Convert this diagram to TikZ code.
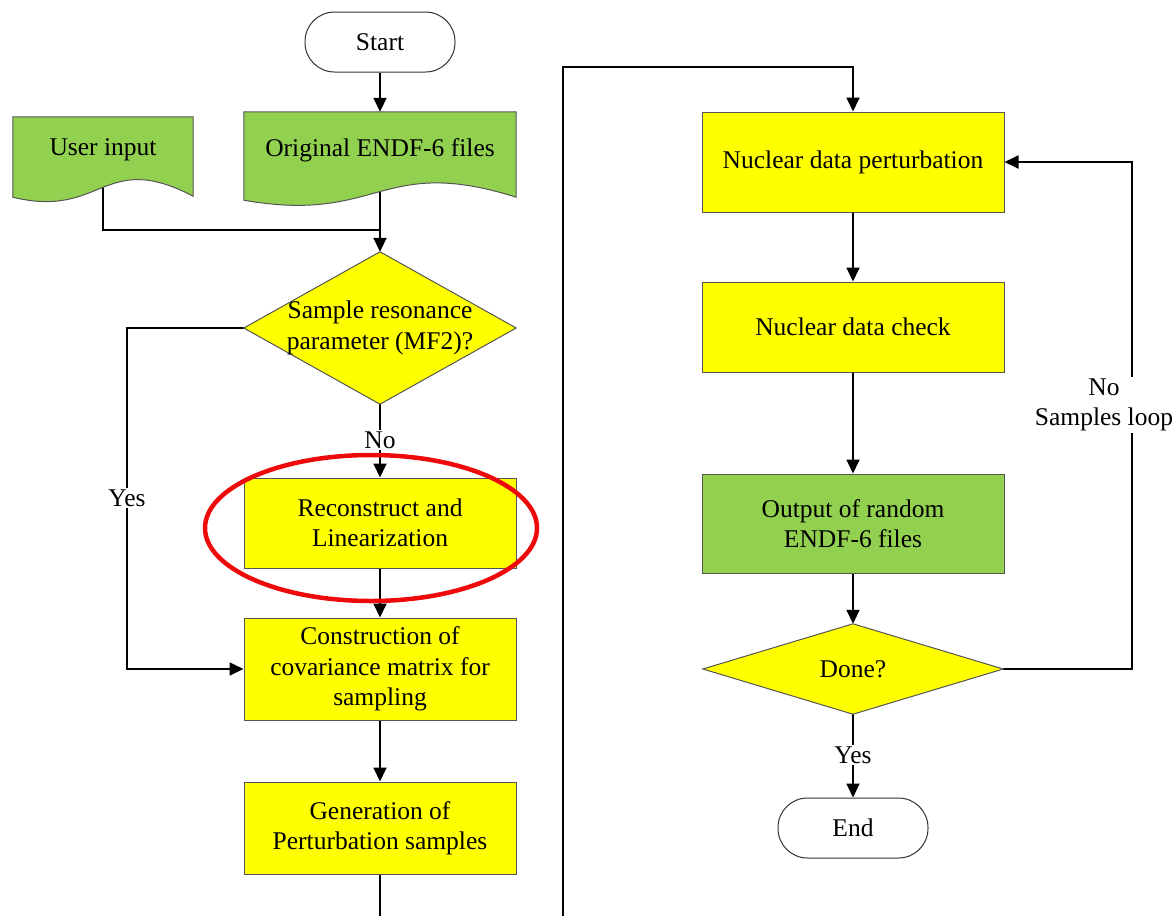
\documentclass[tikz,border=0pt]{standalone}
\usepackage{fontspec}
\setmainfont{Liberation Serif}
\usetikzlibrary{arrows.meta,calc}
\pgfdeclarelayer{lines}
\pgfdeclarelayer{shapes}
\pgfsetlayers{lines,shapes,main}
\definecolor{procyellow}{RGB}{255,255,0}
\definecolor{iogreen}{RGB}{146,208,80}
\definecolor{boxedge}{RGB}{85,85,85}
\definecolor{markred}{RGB}{238,10,10}

\begin{document}
\begin{tikzpicture}[x=1pt,y=-1pt,
  every node/.style={font=\fontsize{25.5}{30.5}\selectfont, align=center, inner sep=0pt},
  proc/.style={rectangle, draw=boxedge, fill=procyellow, line width=1pt, minimum width=272},
  procwide/.style={proc, minimum width=302},
  outbox/.style={procwide, fill=iogreen},
  terminal/.style={rectangle, draw=black!80, fill=white, line width=1pt, rounded corners=29.5,
    minimum width=150, minimum height=60},
  docnode/.style={rectangle, draw=none},
  docshape/.style={draw=boxedge, fill=iogreen, line width=1pt},
  decnode/.style={rectangle, draw=none},
  decshape/.style={draw=boxedge, fill=procyellow, line width=1pt},
  conn/.style={draw=black, line width=1.8pt},
  arr/.style={conn, -{Triangle[length=14, width=13]}},
  lbl/.style={fill=white, inner sep=2pt}
]
\useasboundingbox (0,0) rectangle (1175,916);

% ---- left column ----
\node[terminal] (start) at (380,42) {Start};
\node[docnode, minimum width=180, minimum height=66] (ui) at (103,150) {User input};
\node[docnode, minimum width=272, minimum height=76] (orig) at (380,150) {Original ENDF-6 files};
\node[decnode, minimum width=272, minimum height=152] (d1) at (380,328) {Sample resonance\\parameter (MF2)?};
\node[proc, minimum height=90] (rec) at (380,523) {Reconstruct and\\Linearization};
\node[proc, minimum height=102] (cov) at (380,669) {Construction of\\covariance matrix for\\sampling};
\node[proc, minimum height=92] (gen) at (380,828) {Generation of\\Perturbation samples};

% ---- right column ----
\node[procwide, minimum height=100] (pert) at (853,162) {Nuclear data perturbation};
\node[procwide, minimum height=90] (chk) at (853,327) {Nuclear data check};
\node[outbox, minimum height=99] (out) at (853,523.5) {Output of random\\ENDF-6 files};
\node[decnode, minimum width=300, minimum height=90] (done) at (853,669) {Done?};
\node[terminal] (end) at (853,828) {End};

% highlight around the reconstruction step
\draw[markred, line width=4.5pt] (371,528) ellipse [x radius=166, y radius=73];

% free ends of the page-crossing connectors
\coordinate (cutL) at (380,916);
\coordinate (cutR) at (563,916);
\coordinate (merge) at (380,230);

% ---- outlines of documents and decisions ----
\begin{pgfonlayer}{shapes}
  \path[docshape] (ui.north west) -- ($(ui.south west)+(0,14)$)
    .. controls ($(ui.south)+(0,36)$) and ($(ui.south)+(0,-34)$) .. ($(ui.south east)+(0,13)$)
    -- (ui.north east) -- cycle;
  \path[docshape] (orig.north west) -- ($(orig.south west)+(0,12)$)
    .. controls ($(orig.south)+(0,36)$) and ($(orig.south)+(0,-34)$) .. ($(orig.south east)+(0,9)$)
    -- (orig.north east) -- cycle;
  \path[decshape] (d1.north) -- (d1.east) -- (d1.south) -- (d1.west) -- cycle;
  \path[decshape] (done.north) -- (done.east) -- (done.south) -- (done.west) -- cycle;
\end{pgfonlayer}

% ---- connectors ----
\begin{pgfonlayer}{lines}
  \draw[arr] (start) -- (orig);
  \draw[conn] (ui.south) |- (merge);
  \draw[arr] (orig.south) -- (d1.north);
  \draw[arr] (d1.west) -- ++(-117,0) |- (cov.west);
  \draw[arr] (d1.south) -- (rec.north);
  \draw[arr] (rec) -- (cov);
  \draw[arr] (cov) -- (gen);
  \draw[conn] (gen.south) -- (cutL);
  \draw[arr] (cutR) -- ++(0,-849) -| (pert.north);
  \draw[arr] (pert) -- (chk);
  \draw[arr] (chk) -- (out);
  \draw[arr] (out.south) -- (done.north);
  \draw[arr] (done.south) -- (end.north);
  \draw[arr] (done.east) -- ++(129,0) |- (pert.east);
\end{pgfonlayer}

% ---- connector labels ----
\node[lbl] (lno) at (380,440) {No};
\node[lbl] (lyes) at (127,498) {Yes};
\node[lbl] (lyes2) at (853,755) {Yes};
\node[lbl] (lloop) at (1104,405) {No\\Samples loop};
\end{tikzpicture}
\end{document}
